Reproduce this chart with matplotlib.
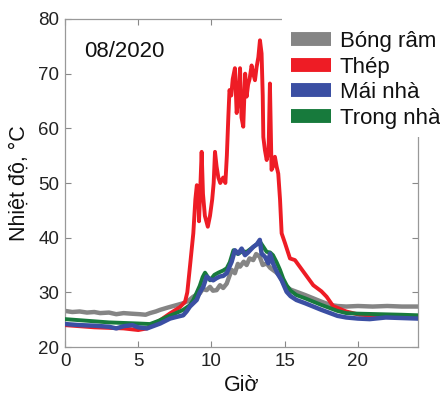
import matplotlib
matplotlib.use("Agg")
import matplotlib.pyplot as plt
from matplotlib.lines import Line2D
from matplotlib.patches import Rectangle

plt.rcParams['font.family'] = ['Liberation Sans', 'DejaVu Sans']

# ---- data ----
shade_t = [0, 0.5, 1, 1.5, 2, 2.4, 3, 3.5, 4, 4.5, 5.1, 5.5, 5.8, 6.2, 6.5, 7.0, 7.4, 8.06, 8.4, 8.76,
           9.0, 9.2, 9.4, 9.67, 9.9, 10.1, 10.35, 10.58, 10.8, 11.04, 11.2, 11.38, 11.6, 11.8, 11.95,
           12.2, 12.4, 12.6, 12.85, 13.05, 13.3, 13.5, 13.77, 14.0, 14.2, 14.45, 14.68, 14.9, 15.13,
           15.4, 15.8, 16.4, 16.95, 17.5, 18.1, 18.6, 19.2, 20, 21, 22, 23, 24.1]
shade_v = [26.6, 26.4, 26.5, 26.3, 26.4, 26.2, 26.3, 26.0, 26.2, 26.1, 26.0, 25.9, 26.2, 26.5, 26.8,
           27.2, 27.5, 28.0, 28.4, 29.2, 29.6, 29.8, 30.6, 30.4, 31.0, 30.3, 30.4, 31.3, 30.8, 31.6,
           32.8, 34.1, 33.5, 35.2, 34.7, 35.6, 35.0, 36.2, 35.9, 37.0, 36.5, 35.0, 35.3, 34.5, 34.1,
           33.6, 32.9, 31.8, 31.0, 30.5, 30.1, 29.5, 28.9, 28.3, 27.7, 27.5, 27.4, 27.5, 27.4, 27.5,
           27.4, 27.4]

steel_t = [0, 1, 2, 3, 4, 5, 5.6, 6.0, 6.5, 7.2, 7.85, 8.2, 8.35, 8.53, 8.76, 8.9, 9.0, 9.1, 9.15,
           9.25, 9.33, 9.42, 9.55, 9.75, 9.9, 10.05, 10.15, 10.24, 10.35, 10.47, 10.6, 10.8, 10.95,
           11.05, 11.15, 11.23, 11.35, 11.45, 11.6, 11.72, 11.85, 11.95, 12.05, 12.17, 12.3, 12.4,
           12.5, 12.6, 12.74, 12.85, 12.97, 13.08, 13.2, 13.31, 13.42, 13.5, 13.54, 13.65, 13.77,
           13.9, 13.99, 14.1, 14.2, 14.33, 14.45, 14.56, 14.68, 14.79, 15.02, 15.36, 15.7, 16.27,
           16.95, 17.5, 17.86, 18.3, 19.2, 20.1, 21.5, 23, 24.1]
steel_v = [24.0, 23.8, 23.6, 23.5, 23.4, 23.1, 23.4, 24.2, 24.9, 26.2, 27.3, 28.3, 30, 34.7, 40.8,
           47, 49.6, 49, 43, 50, 55.7, 48, 44, 42, 44, 47, 50, 55.7, 53, 51, 50, 51, 50, 55, 62, 67,
           66, 69, 71, 62.8, 66, 71, 62, 60.3, 70, 65.8, 68, 69, 71.5, 70, 68.8, 71.2, 73, 76.1, 73.7,
           66, 58.4, 56, 54.2, 56, 68.2, 52.4, 53, 54.8, 53, 51.7, 47, 40.8, 39, 36.2, 35.9, 33.8,
           31.3, 30.2, 29.2, 27.5, 26.5, 25.9, 25.7, 25.5, 25.3]

roof_t = [0, 1, 2, 3, 3.5, 4.0, 4.6, 5.0, 5.6, 6.0, 6.5, 7.17, 7.6, 8.07, 8.3, 8.53, 8.99, 9.2,
          9.44, 9.67, 9.9, 10.12, 10.35, 10.58, 10.8, 11.04, 11.2, 11.38, 11.6, 11.83, 12.06, 12.29,
          12.5, 12.85, 13.1, 13.3, 13.42, 13.65, 13.88, 13.99, 14.2, 14.5, 14.79, 15.13, 15.4, 15.8,
          16.4, 16.95, 17.5, 18.1, 18.6, 19.2, 20, 20.8, 21.9, 23, 24.1]
roof_v = [24.2, 24.0, 23.9, 23.7, 23.4, 23.8, 24.0, 23.6, 23.4, 23.8, 24.3, 25.2, 25.5, 25.8, 26.5,
          27.4, 28.6, 30.0, 31.0, 32.9, 32.4, 32.2, 32.6, 32.9, 33.0, 33.5, 34.5, 35.6, 37.7, 37.1,
          38.0, 36.8, 37.3, 38.3, 38.8, 39.6, 37.1, 36.5, 35.3, 37.1, 35.3, 33.5, 32.2, 30.1, 29.3,
          28.6, 28.0, 27.4, 26.8, 26.2, 25.7, 25.4, 25.2, 25.1, 25.4, 25.3, 25.2]

indoor_t = [0, 1, 2, 3, 4, 5, 5.8, 6.4, 6.94, 7.5, 8.07, 8.5, 8.76, 9.0, 9.2, 9.4, 9.56, 9.75, 9.9,
            10.2, 10.47, 10.8, 11.04, 11.25, 11.5, 11.8, 12.1, 12.4, 12.85, 13.1, 13.3, 13.5, 13.77,
            14.0, 14.2, 14.45, 14.68, 14.9, 15.13, 15.4, 15.8, 16.4, 16.95, 17.5, 18.1, 18.6, 19.2,
            20, 21.5, 23, 24.1]
indoor_v = [25.1, 24.9, 24.7, 24.5, 24.4, 24.3, 24.2, 24.8, 25.5, 26.1, 26.8, 27.6, 28.6, 30, 31.2,
            32.8, 33.6, 32.8, 32.2, 33.2, 33.6, 34, 34.4, 35.5, 37.7, 37, 37.5, 37.4, 38.3, 38.8, 39.3,
            38.5, 37.4, 37.3, 36.8, 35.5, 34.1, 32.5, 31.3, 30.3, 29.5, 28.9, 28.3, 27.7, 27.1, 26.6,
            26.2, 26.1, 26.0, 25.9, 25.8]

labels = ['Bóng râm', 'Thép', 'Mái nhà', 'Trong nhà']
colors = ['#858585', '#ee1c25', '#3b4fa3', '#177a3c']
xticks = [0, 5, 10, 15, 20]
yticks = [20, 30, 40, 50, 60, 70, 80]

# ---- figure ----
W, H = 440, 399
fig = plt.figure(figsize=(4.4, 3.99), dpi=100)
ax = fig.add_axes([65 / W, 52 / H, (418 - 65) / W, (347 - 19) / H])

ax.plot(shade_t, shade_v, color=colors[0], lw=3.2, zorder=2)
ax.plot(steel_t, steel_v, color=colors[1], lw=2.8, zorder=3)
ax.plot(indoor_t, indoor_v, color=colors[3], lw=2.8, zorder=4)
ax.plot(roof_t, roof_v, color=colors[2], lw=3.2, zorder=5)

ax.set_xlim(0, 24.1)
ax.set_ylim(20, 80)
ax.set_xticks(xticks)
ax.set_yticks(yticks)
ax.tick_params(direction='in', length=4, width=0.8, color='#888888', labelsize=13.5,
               labelcolor='#222222', top=True, right=True, pad=4)
for s in ax.spines.values():
    s.set_color('#999999')
    s.set_linewidth(0.9)

ax.set_xlabel('Giờ', fontsize=15.5, color='#111111', labelpad=4)
ax.set_ylabel('Nhiệt độ, °C', fontsize=15.5, color='#111111', labelpad=6)
ax.text(0.055, 0.9, '08/2020', transform=ax.transAxes, fontsize=16, color='#111111',
        ha='left', va='center')

# white block behind the legend (covers the top-right of the frame, as in the reference)
fig.add_artist(Rectangle((282 / W, 1 - 137 / H), (W - 282) / W, 137 / H,
                         transform=fig.transFigure, facecolor='white', edgecolor='none',
                         zorder=1))

handles = [Line2D([0], [0], color=c, lw=10, solid_capstyle='butt') for c in colors]
leg = fig.legend(handles, labels, loc='upper left', bbox_to_anchor=(282 / W, 1 - 22 / H),
                 fontsize=16, frameon=False, borderaxespad=0,
                 handlelength=1.8, handletextpad=0.4, labelspacing=0.21, borderpad=0.4)
leg.set_zorder(10)
for t in leg.get_texts():
    t.set_color('#111111')

fig.savefig('out.png', dpi=100)
